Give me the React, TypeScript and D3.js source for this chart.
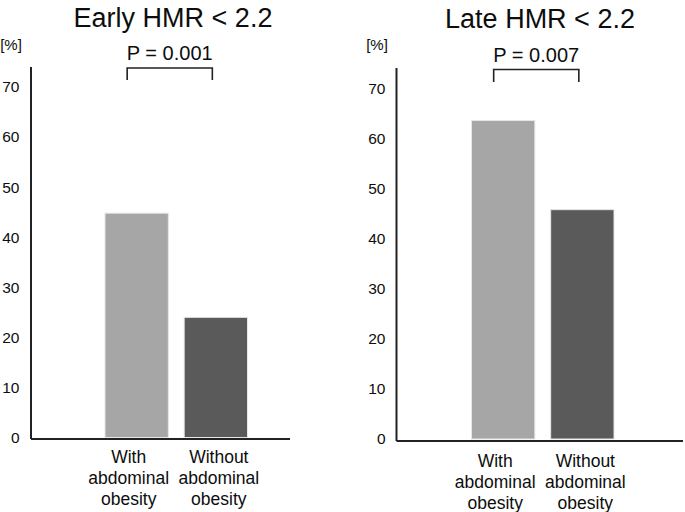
import React from "react";
import * as d3 from "d3";

const categories = ["With abdominal obesity", "Without abdominal obesity"];
const categoryLines = [["With", "abdominal", "obesity"], ["Without", "abdominal", "obesity"]];
const panelTitles = ["Early HMR < 2.2", "Late HMR < 2.2"];
const pValues = ["P = 0.001", "P = 0.007"];
const earlyValues = [44.8, 24.0];
const lateValues = [63.6, 45.8];
const yTicks = [0, 10, 20, 30, 40, 50, 60, 70];
const unitLabel = "[%]";

const FONT = "'Liberation Sans', Arial, Helvetica, sans-serif";
const TEXT = "#0d0d0d";
const barColors = ["#a6a6a6", "#5a5a5a"];

type PanelLayout = {
  axisX: number;
  axisTop: number;
  axisBottom: number;
  axisRight: number;
  y0: number;
  y70: number;
  barLeft: number;
  barRight: number;
  titleX: number;
  titleY: number;
  pY: number;
  bracketY: number;
  bracketLeg: number;
  tickRight: number;
  unitX: number;
  unitY: number;
  labelY: number;
};

const layouts: PanelLayout[] = [
  {
    axisX: 31, axisTop: 67, axisBottom: 439, axisRight: 290,
    y0: 437.5, y70: 87, barLeft: 105, barRight: 247.5,
    titleX: 173, titleY: 26.5, pY: 59.5, bracketY: 68, bracketLeg: 80,
    tickRight: 19.5, unitX: 11, unitY: 50, labelY: 462.5,
  },
  {
    axisX: 396.5, axisTop: 68, axisBottom: 441, axisRight: 683,
    y0: 439, y70: 88.5, barLeft: 471.5, barRight: 614,
    titleX: 540, titleY: 27.5, pY: 61.5, bracketY: 69.5, bracketLeg: 82,
    tickRight: 385.5, unitX: 377, unitY: 50, labelY: 466.5,
  },
];

function Panel({ values, idx }: { values: number[]; idx: number }) {
  const L = layouts[idx];
  const y = d3.scaleLinear().domain([0, 70]).range([L.y0, L.y70]);
  const x = d3.scaleBand<string>().domain(categories).range([L.barLeft, L.barRight]).paddingInner(0.2).paddingOuter(0);
  const bw = x.bandwidth();
  const centers = categories.map((c) => (x(c) as number) + bw / 2);
  const labelOffsets = [-8, 3];
  const bracketX1 = centers[0] - 9.5;
  const bracketX2 = centers[1] - 3.5;
  const bracketPath = d3.path();
  bracketPath.moveTo(bracketX1, L.bracketLeg);
  bracketPath.lineTo(bracketX1, L.bracketY);
  bracketPath.lineTo(bracketX2, L.bracketY);
  bracketPath.lineTo(bracketX2, L.bracketLeg);

  return (
    <g>
      <text x={L.titleX} y={L.titleY} textAnchor="middle" fontSize={27} fill={TEXT} fontFamily={FONT}>
        {panelTitles[idx]}
      </text>
      <text x={L.unitX} y={L.unitY} textAnchor="middle" fontSize={15} fill={TEXT} fontFamily={FONT}>
        {unitLabel}
      </text>
      <text x={(bracketX1 + bracketX2) / 2} y={L.pY} textAnchor="middle" fontSize={20} fill={TEXT} fontFamily={FONT}>
        {pValues[idx]}
      </text>
      <path d={bracketPath.toString()} fill="none" stroke="#222" strokeWidth={1.6} />
      {yTicks.map((t) => (
        <text key={t} x={L.tickRight} y={y(t)} dy="0.35em" textAnchor="end" fontSize={15.5} fill={TEXT} fontFamily={FONT}>
          {t}
        </text>
      ))}
      {categories.map((c, i) => (
        <rect
          key={c}
          x={x(c)}
          y={y(values[i])}
          width={bw}
          height={y(0) - y(values[i])}
          fill={barColors[i]}
          stroke="#e6e6e6"
          strokeWidth={1}
        />
      ))}
      <line x1={L.axisX} x2={L.axisX} y1={L.axisTop} y2={L.axisBottom} stroke="#222" strokeWidth={2} />
      <line x1={L.axisX} x2={L.axisRight} y1={L.axisBottom} y2={L.axisBottom} stroke="#222" strokeWidth={2} />
      {categories.map((c, i) => (
        <text key={c} textAnchor="middle" fontSize={17.5} fill={TEXT} fontFamily={FONT}>
          {categoryLines[i].map((ln, j) => (
            <tspan key={j} x={centers[i] + labelOffsets[i]} y={L.labelY + j * 21}>
              {ln}
            </tspan>
          ))}
        </text>
      ))}
    </g>
  );
}

export default function App() {
  return (
    <svg width={685} height={512} style={{ position: "absolute", left: 0, top: 0, background: "#fff" }}>
      <rect width={685} height={512} fill="#fff" />
      <Panel values={earlyValues} idx={0} />
      <Panel values={lateValues} idx={1} />
    </svg>
  );
}
